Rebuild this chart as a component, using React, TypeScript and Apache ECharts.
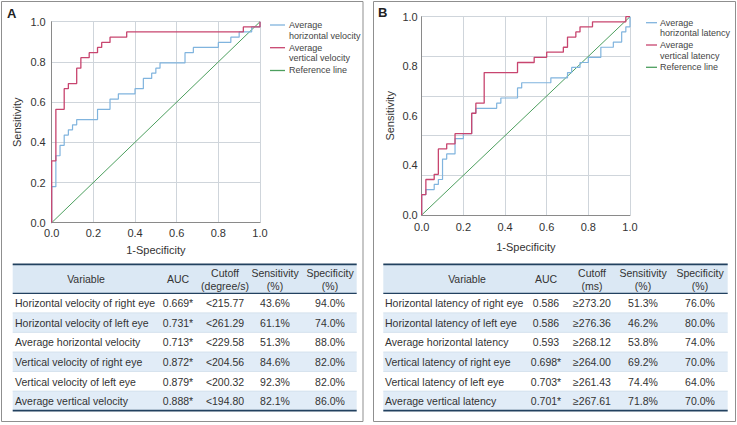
import React, { useEffect, useRef } from 'react';
import * as echarts from 'echarts';

const FONT = '"Liberation Sans", Arial, Helvetica, sans-serif';

const xTickLabels = ['0.0', '0.2', '0.4', '0.6', '0.8', '1.0'];
const yTickLabelsA = ['0.0', '0.2', '0.4', '0.6', '0.8', '1.0'];
const yTickLabelsB = ['0.0', '0.4', '0.6', '0.8', '1.0'];

const legendNamesA = ['Average\nhorizontal velocity', 'Average\nvertical velocity', 'Reference line'];
const legendNamesB = ['Average\nhorizontal latency', 'Average\nvertical latency', 'Reference line'];

// Panel A: ROC corner points (1-specificity, sensitivity)
const hVelFpr = [0, 0, 0.02, 0.04, 0.06, 0.08, 0.10, 0.12, 0.22, 0.28, 0.32, 0.40, 0.44, 0.48, 0.50, 0.52, 0.64, 0.68, 0.80, 0.86, 0.90, 0.96, 1];
const hVelTpr = [0, 0.179, 0.333, 0.385, 0.436, 0.462, 0.487, 0.513, 0.564, 0.615, 0.641, 0.667, 0.718, 0.744, 0.769, 0.795, 0.846, 0.872, 0.897, 0.923, 0.949, 0.974, 1];
const vVelFpr = [0, 0, 0.02, 0.06, 0.08, 0.12, 0.14, 0.18, 0.22, 0.24, 0.28, 0.36, 0.92, 1];
const vVelTpr = [0, 0.308, 0.564, 0.667, 0.692, 0.769, 0.821, 0.846, 0.872, 0.897, 0.923, 0.949, 0.974, 1];

// Panel B
const hLatFpr = [0, 0, 0.02, 0.06, 0.08, 0.10, 0.12, 0.16, 0.20, 0.24, 0.26, 0.36, 0.38, 0.46, 0.48, 0.62, 0.70, 0.72, 0.76, 0.80, 0.86, 0.92, 0.96, 0.98, 1];
const hLatTpr = [0, 0.103, 0.128, 0.154, 0.179, 0.282, 0.308, 0.385, 0.410, 0.513, 0.538, 0.564, 0.590, 0.641, 0.667, 0.692, 0.718, 0.744, 0.769, 0.795, 0.846, 0.872, 0.923, 0.949, 1];
const vLatFpr = [0, 0, 0.02, 0.06, 0.08, 0.12, 0.16, 0.24, 0.26, 0.30, 0.46, 0.54, 0.60, 0.68, 0.70, 0.74, 0.76, 0.82, 0.98, 1];
const vLatTpr = [0, 0.103, 0.179, 0.205, 0.333, 0.359, 0.410, 0.513, 0.564, 0.718, 0.769, 0.795, 0.821, 0.846, 0.897, 0.923, 0.949, 0.974, 1, 1];

const refFpr = [0, 1];
const refTpr = [0, 1];

// Tables
const headerA = ['Variable', 'AUC', 'Cutoff\n(degree/s)', 'Sensitivity\n(%)', 'Specificity\n(%)'];
const variablesA = [
  'Horizontal velocity of right eye',
  'Horizontal velocity of left eye',
  'Average horizontal velocity',
  'Vertical velocity of right eye',
  'Vertical velocity of left eye',
  'Average vertical velocity',
];
const aucA = ['0.669*', '0.731*', '0.713*', '0.872*', '0.879*', '0.888*'];
const cutoffA = ['<215.77', '<261.29', '<229.58', '<204.56', '<200.32', '<194.80'];
const sensA = ['43.6%', '61.1%', '51.3%', '84.6%', '92.3%', '82.1%'];
const specA = ['94.0%', '74.0%', '88.0%', '82.0%', '82.0%', '86.0%'];

const headerB = ['Variable', 'AUC', 'Cutoff\n(ms)', 'Sensitivity\n(%)', 'Specificity\n(%)'];
const variablesB = [
  'Horizontal latency of right eye',
  'Horizontal latency of left eye',
  'Average horizontal latency',
  'Vertical latency of right eye',
  'Vertical latency of left eye',
  'Average vertical latency',
];
const aucB = ['0.586', '0.586', '0.593', '0.698*', '0.703*', '0.701*'];
const cutoffB = ['\u2265273.20', '\u2265276.36', '\u2265268.12', '\u2265264.00', '\u2265261.43', '\u2265267.61'];
const sensB = ['51.3%', '46.2%', '53.8%', '69.2%', '74.4%', '71.8%'];
const specB = ['76.0%', '80.0%', '74.0%', '70.0%', '64.0%', '70.0%'];

const BLUE = '#80b4de';
const RED = '#c8456f';
const GREEN = '#4c9f5e';
const TXT = '#333';
const GRIDC = '#cfd5db';
const AXISC = '#8a8a8a';
const NAVY = '#22415f';

const zip = (xs: number[], ys: number[]) => xs.map((x, i) => [x, ys[i]]);

function xAxisCfg(gridIndex: number, nameGap: number, margin: number) {
  return {
    type: 'value', gridIndex, min: 0, max: 1, interval: 0.2,
    name: '1-Specificity', nameLocation: 'middle', nameGap,
    nameTextStyle: { fontSize: 11, color: TXT, fontFamily: FONT },
    axisLine: { show: true, onZero: false, lineStyle: { color: AXISC, width: 1 } },
    axisTick: { show: false },
    axisLabel: { margin, fontSize: 11, color: TXT, fontFamily: FONT, formatter: (v: number) => xTickLabels[Math.round(v * 5)] },
    splitLine: { show: true, lineStyle: { color: GRIDC, width: 1 } },
  };
}

function lineSeries(name: string, xs: number[], ys: number[], color: string, axis: number, step: boolean, width: number) {
  return {
    type: 'line', name, xAxisIndex: axis, yAxisIndex: axis,
    data: zip(xs, ys), step: step ? 'end' : false,
    showSymbol: false, symbol: 'none', clip: false,
    lineStyle: { color, width }, itemStyle: { color },
  };
}

function legendGraphic(names: string[], colors: string[], x1: number, x2: number, tx: number, ys: number[]) {
  const els: any[] = [];
  names.forEach((n, i) => {
    els.push({ type: 'line', shape: { x1, y1: ys[i], x2, y2: ys[i] }, style: { stroke: colors[i], lineWidth: 1.3 } });
    els.push({
      type: 'text', x: tx, y: ys[i] - 5.5,
      style: { text: n, fill: '#444', fontSize: 9, fontFamily: FONT, align: 'left', verticalAlign: 'top', lineHeight: 10.7 },
    });
  });
  return els;
}

function tableGraphic(
  x0: number, x1: number, header: string[], cols: string[][],
  centers: number[], varLeft: number, varHeaderCenter: number,
) {
  const top = 264.3;
  const headH = 29;
  const rowH = 19.55;
  const els: any[] = [];
  els.push({ type: 'rect', shape: { x: x0, y: top, width: x1 - x0, height: headH }, style: { fill: '#dbe8f4' } });
  for (let r = 0; r < cols[0].length; r++) {
    const y = top + headH + r * rowH;
    if (r % 2 === 1) {
      els.push({ type: 'rect', shape: { x: x0, y, width: x1 - x0, height: rowH }, style: { fill: '#e1ecf7' } });
    }
    if (r > 0) {
      els.push({ type: 'line', shape: { x1: x0, y1: y, x2: x1, y2: y }, style: { stroke: '#c6d6e6', lineWidth: 0.6 } });
    }
  }
  els.push({ type: 'line', shape: { x1: x0, y1: top, x2: x1, y2: top }, style: { stroke: NAVY, lineWidth: 1.8 } });
  els.push({ type: 'line', shape: { x1: x0, y1: top + headH, x2: x1, y2: top + headH }, style: { stroke: NAVY, lineWidth: 1.2 } });
  const bottom = top + headH + cols[0].length * rowH;
  els.push({ type: 'line', shape: { x1: x0, y1: bottom, x2: x1, y2: bottom }, style: { stroke: NAVY, lineWidth: 1.8 } });

  header.forEach((h, c) => {
    const cx = c === 0 ? varHeaderCenter : centers[c];
    els.push({
      type: 'text', x: cx, y: top + headH / 2 + 0.5,
      style: { text: h, fill: TXT, fontSize: 10.5, fontFamily: FONT, align: 'center', verticalAlign: 'middle', lineHeight: 13 },
    });
  });
  cols.forEach((col, c) => {
    col.forEach((v, r) => {
      const cy = top + headH + r * rowH + rowH / 2 + 0.3;
      els.push({
        type: 'text', x: c === 0 ? varLeft : centers[c], y: cy,
        style: { text: v, fill: TXT, fontSize: 10.5, fontFamily: FONT, align: c === 0 ? 'left' : 'center', verticalAlign: 'middle' },
      });
    });
  });
  return els;
}

export default function App() {
  const ref = useRef<HTMLDivElement>(null);
  useEffect(() => {
    if (!ref.current) return;
    const chart = echarts.init(ref.current, undefined, { renderer: 'svg' });
    const option: any = {
      animation: false,
      backgroundColor: '#ffffff',
      grid: [
        { left: 51.7, top: 21.7, width: 208.3, height: 201, outerBoundsMode: 'none' },
        { left: 421.7, top: 16.7, width: 208.3, height: 198.3, outerBoundsMode: 'none' },
      ],
      xAxis: [xAxisCfg(0, 22, 5), xAxisCfg(1, 26, 6)],
      yAxis: [
        {
          type: 'value', gridIndex: 0, position: 'left', min: 0, max: 1, interval: 0.2,
          name: 'Sensitivity', nameLocation: 'middle', nameGap: 29,
          nameTextStyle: { fontSize: 11, color: TXT, fontFamily: FONT },
          axisLine: { show: true, onZero: false, lineStyle: { color: AXISC, width: 1 } },
          axisTick: { show: false },
          axisLabel: { margin: 6, fontSize: 11, color: TXT, fontFamily: FONT, formatter: (v: number) => yTickLabelsA[Math.round(v * 5)] },
          splitLine: { show: true, lineStyle: { color: GRIDC, width: 1 } },
        },
        {
          type: 'value', gridIndex: 1, position: 'left', min: 0, max: 1, interval: 0.2,
          name: 'Sensitivity', nameLocation: 'middle', nameGap: 26,
          nameTextStyle: { fontSize: 11, color: TXT, fontFamily: FONT },
          axisLine: { show: true, onZero: false, lineStyle: { color: AXISC, width: 1 } },
          axisTick: { show: false },
          axisLabel: { show: false },
          splitLine: { show: true, lineStyle: { color: GRIDC, width: 1 } },
        },
        {
          type: 'value', gridIndex: 1, position: 'left', min: 0, max: 1, interval: 0.25,
          axisLine: { show: false }, axisTick: { show: false }, splitLine: { show: false },
          axisLabel: { margin: 4, fontSize: 11, color: TXT, fontFamily: FONT, formatter: (v: number) => yTickLabelsB[Math.round(v * 4)] },
        },
      ],
      series: [
        lineSeries(legendNamesA[2], refFpr, refTpr, GREEN, 0, false, 1),
        lineSeries(legendNamesA[0], hVelFpr, hVelTpr, BLUE, 0, true, 1.2),
        lineSeries(legendNamesA[1], vVelFpr, vVelTpr, RED, 0, true, 1.3),
        lineSeries(legendNamesB[2], refFpr, refTpr, GREEN, 1, false, 1),
        lineSeries(legendNamesB[0], hLatFpr, hLatTpr, BLUE, 1, true, 1.2),
        lineSeries(legendNamesB[1], vLatFpr, vLatTpr, RED, 1, true, 1.3),
      ],
      graphic: [
        { type: 'rect', shape: { x: 1.5, y: 1.5, width: 361.5, height: 420 }, style: { fill: 'none', stroke: '#8f8f8f', lineWidth: 1 } },
        { type: 'rect', shape: { x: 373.5, y: 1.5, width: 362, height: 420 }, style: { fill: 'none', stroke: '#8f8f8f', lineWidth: 1 } },
        { type: 'text', x: 7, y: 13.5, style: { text: 'A', fill: '#222', fontSize: 13, fontWeight: 'bold', fontFamily: FONT, verticalAlign: 'middle' } },
        { type: 'text', x: 378, y: 12.5, style: { text: 'B', fill: '#222', fontSize: 13, fontWeight: 'bold', fontFamily: FONT, verticalAlign: 'middle' } },
        ...legendGraphic(legendNamesA, [BLUE, RED, GREEN], 270, 285, 289, [25, 47.7, 70.5]),
        ...legendGraphic(legendNamesB, [BLUE, RED, GREEN], 646, 657, 660, [22.7, 45, 67.3]),
        ...tableGraphic(12.7, 356.7, headerA, [variablesA, aucA, cutoffA, sensA, specA], [0, 178, 225, 275, 330], 15, 86),
        ...tableGraphic(383.3, 727.7, headerB, [variablesB, aucB, cutoffB, sensB, specB], [0, 546, 592, 643, 700], 385, 467),
      ],
    };
    chart.setOption(option);
    return () => chart.dispose();
  }, []);
  return (
    <div
      ref={ref}
      style={{ position: 'fixed', left: 0, top: 0, width: 737, height: 425, background: '#fff' }}
    />
  );
}
